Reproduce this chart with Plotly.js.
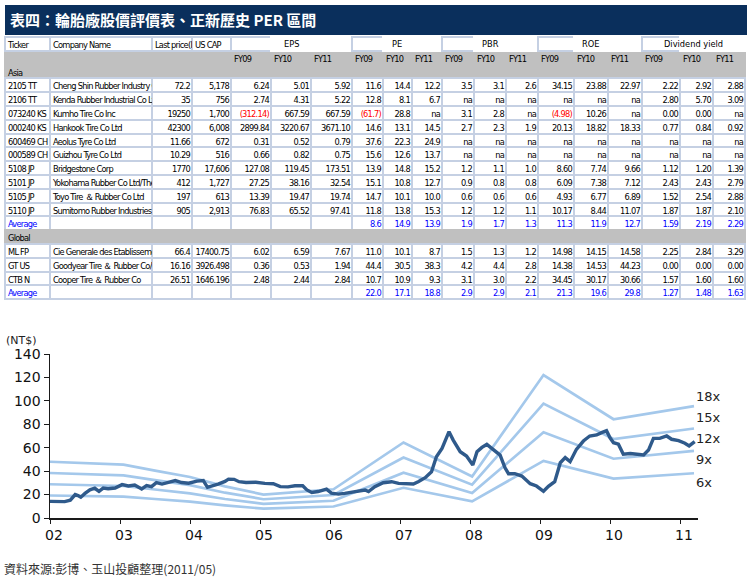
<!DOCTYPE html>
<html>
<head>
<meta charset="utf-8">
<script src="https://cdn.plot.ly/plotly-3.0.1.min.js"></script>
<style>
html,body{margin:0;padding:0;background:#fff;}
#chart{width:753px;height:578px;}
#chart .table text, #chart text.cell-text{letter-spacing:-0.75px;}
</style>
</head>
<body>
<div id="chart"></div>
<script>
// ---------------- DATA ----------------
const tableTitle = '表四：輪胎廠股價評價表、正新歷史 PER 區間';
const headerLabels = ['Ticker', 'Company Name', 'Last price(lc', 'US CAP'];
const groupLabels = ['EPS', 'PE', 'PBR', 'ROE', 'Dividend yield'];
const fyLabels = ['FY09', 'FY10', 'FY11'];
const regionLabels = ['Asia', 'Global'];
const averageLabel = 'Average';
const asiaCount = 10;

const tickers = ['2105 TT', '2106 TT', '073240 KS', '000240 KS', '600469 CH', '000589 CH', '5108 JP', '5101 JP', '5105 JP', '5110 JP', 'ML FP', 'GT US', 'CTB N'];
const companies = ['Cheng Shin Rubber Industry C', 'Kenda Rubber Industrial Co Ltc', 'Kumho Tire Co Inc', 'Hankook Tire Co Ltd', 'Aeolus Tyre Co Ltd', 'Guizhou Tyre Co Ltd', 'Bridgestone Corp', 'Yokohama Rubber Co Ltd/The', 'Toyo Tire ＆ Rubber Co Ltd', 'Sumitomo Rubber Industries L', 'Cie Generale des Etablisseme', 'Goodyear Tire ＆ Rubber Co/Th', 'Cooper Tire ＆ Rubber Co'];
const lastPrice = ['72.2', '35', '19250', '42300', '11.66', '10.29', '1770', '412', '197', '905', '66.4', '16.16', '26.51'];
const usCap = ['5,178', '756', '1,700', '6,008', '672', '516', '17,606', '1,727', '613', '2,913', '17400.75', '3926.498', '1646.196'];
const epsFY09 = ['6.24', '2.74', '(312.14)', '2899.84', '0.31', '0.66', '127.08', '27.25', '13.39', '76.83', '6.02', '0.36', '2.48'];
const epsFY10 = ['5.01', '4.31', '667.59', '3220.67', '0.52', '0.82', '119.45', '38.16', '19.47', '65.52', '6.59', '0.53', '2.44'];
const epsFY11 = ['5.92', '5.22', '667.59', '3671.10', '0.79', '0.75', '173.51', '32.54', '19.74', '97.41', '7.67', '1.94', '2.84'];
const peFY09 = ['11.6', '12.8', '(61.7)', '14.6', '37.6', '15.6', '13.9', '15.1', '14.7', '11.8', '11.0', '44.4', '10.7'];
const peFY10 = ['14.4', '8.1', '28.8', '13.1', '22.3', '12.6', '14.8', '10.8', '10.1', '13.8', '10.1', '30.5', '10.9'];
const peFY11 = ['12.2', '6.7', 'na', '14.5', '24.9', '13.7', '15.2', '12.7', '10.0', '15.3', '8.7', '38.3', '9.3'];
const pbrFY09 = ['3.5', 'na', '3.1', '2.7', 'na', 'na', '1.2', '0.9', '0.6', '1.2', '1.5', '4.2', '3.1'];
const pbrFY10 = ['3.1', 'na', '2.8', '2.3', 'na', 'na', '1.1', '0.8', '0.6', '1.2', '1.3', '4.4', '3.0'];
const pbrFY11 = ['2.6', 'na', 'na', '1.9', 'na', 'na', '1.0', '0.8', '0.6', '1.1', '1.2', '2.8', '2.2'];
const roeFY09 = ['34.15', 'na', '(4.98)', '20.13', 'na', 'na', '8.60', '6.09', '4.93', '10.17', '14.98', '14.38', '34.45'];
const roeFY10 = ['23.88', 'na', '10.26', '18.82', 'na', 'na', '7.74', '7.38', '6.77', '8.44', '14.15', '14.53', '30.17'];
const roeFY11 = ['22.97', 'na', 'na', '18.33', 'na', 'na', '9.66', '7.12', '6.89', '11.07', '14.58', '44.23', '30.66'];
const dyFY09 = ['2.22', '2.80', '0.00', '0.77', 'na', 'na', '1.12', '2.43', '1.52', '1.87', '2.25', '0.00', '1.57'];
const dyFY10 = ['2.92', '5.70', '0.00', '0.84', 'na', 'na', '1.20', '2.43', '2.54', '1.87', '2.84', '0.00', '1.60'];
const dyFY11 = ['2.88', '3.09', 'na', '0.92', 'na', 'na', '1.39', '2.79', '2.88', '2.10', '3.29', '0.00', '1.60'];
// averages for PE, PBR, ROE, Dividend yield (FY09..FY11 each)
const asiaAverage = ['8.6', '14.9', '13.9', '1.9', '1.7', '1.3', '11.3', '11.9', '12.7', '1.59', '2.19', '2.29'];
const globalAverage = ['22.0', '17.1', '18.8', '2.9', '2.9', '2.1', '21.3', '19.6', '29.8', '1.27', '1.48', '1.63'];

// Chart: Cheng Shin share price (NT$) and PER band lines
const priceDates = [2002.00, 2002.07, 2002.14, 2002.21, 2002.29, 2002.36, 2002.40, 2002.44, 2002.50, 2002.57, 2002.64, 2002.70, 2002.76, 2002.83, 2002.93,
  2003.03, 2003.12, 2003.21, 2003.31, 2003.38, 2003.45, 2003.52, 2003.60, 2003.69, 2003.79, 2003.88, 2003.98,
  2004.10, 2004.19, 2004.25, 2004.32, 2004.40, 2004.50, 2004.55, 2004.63, 2004.70, 2004.80, 2004.94,
  2005.07, 2005.19, 2005.29, 2005.40, 2005.50, 2005.61, 2005.67, 2005.74, 2005.83, 2005.95,
  2006.02, 2006.12, 2006.21, 2006.36, 2006.50, 2006.55, 2006.64, 2006.76, 2006.88, 2006.98,
  2007.07, 2007.19, 2007.26, 2007.36, 2007.45, 2007.52, 2007.60, 2007.67, 2007.70, 2007.76, 2007.86, 2007.95,
  2008.04, 2008.10, 2008.17, 2008.24, 2008.35, 2008.43, 2008.50, 2008.55, 2008.64, 2008.74, 2008.86, 2008.95,
  2009.05, 2009.12, 2009.21, 2009.29, 2009.36, 2009.43, 2009.52, 2009.62, 2009.71, 2009.81, 2009.88, 2009.95,
  2010.00, 2010.05, 2010.12, 2010.19, 2010.29, 2010.38, 2010.48, 2010.55, 2010.62, 2010.71, 2010.81, 2010.88, 2010.98,
  2011.07, 2011.13, 2011.21];
const priceValues = [14.2, 13.9, 13.7, 14.0, 15.2, 20.0, 19.2, 17.8, 21.0, 24.0, 25.4, 22.8, 25.5, 25.0, 25.6,
  28.5, 27.4, 28.2, 24.8, 27.6, 26.8, 30.2, 29.0, 30.4, 32.0, 30.3, 29.7,
  31.5, 32.0, 26.2, 27.2, 29.0, 31.2, 33.2, 33.0, 31.0, 30.3, 30.5,
  29.6, 29.2, 26.8, 26.6, 27.5, 27.5, 24.0, 21.8, 22.6, 24.6,
  21.2, 20.4, 21.0, 22.5, 23.9, 22.6, 26.7, 30.1, 31.0, 29.6,
  29.5, 29.0, 31.0, 34.4, 39.5, 52.3, 59.4, 70.8, 73.7, 66.5, 56.6, 52.9,
  45.2, 56.6, 60.3, 62.8, 57.1, 53.7, 42.9, 37.8, 37.8, 35.8, 29.3, 27.3,
  22.8, 27.0, 31.0, 47.2, 51.5, 48.1, 58.6, 65.7, 70.0, 70.9, 72.9, 74.5,
  68.5, 64.3, 63.0, 54.5, 55.0, 54.6, 53.8, 58.0, 68.0, 68.0, 70.0, 67.2, 66.0,
  63.8, 61.5, 65.2];
const bandDates = [2002.00, 2003.05, 2003.50, 2004.00, 2004.50, 2005.05, 2006.05, 2007.05, 2008.03, 2009.05, 2010.05, 2011.20];
const bandTop = [48.0, 45.5, 40.5, 35.0, 27.0, 20.0, 24.5, 64.5, 35.5, 122.0, 84.3, 95.5];
const bandUpper = [38.4, 36.4, 32.4, 28.0, 21.6, 16.0, 19.6, 51.6, 28.4, 97.6, 67.4, 76.4];
const bandLower = [28.8, 27.3, 24.3, 21.0, 16.2, 12.0, 14.7, 38.7, 21.3, 73.2, 50.6, 57.3];
const bandBottom = [19.2, 18.2, 16.2, 14.0, 10.8, 8.0, 9.8, 25.8, 14.2, 48.8, 33.7, 38.2];
const bandLabels = ['18x', '15x', '12x', '9x', '6x'];
const yearTicks = [2002, 2003, 2004, 2005, 2006, 2007, 2008, 2009, 2010, 2011];
const yearTickText = ['02', '03', '04', '05', '06', '07', '08', '09', '10', '11'];
const unitLabel = '(NT$)';
const sourceText = '資料來源:彭博、玉山投顧整理(2011/05)';

// ---------------- TABLE BUILD ----------------
const W = 753, H = 578;
const px = x => x / W;
const py = y => 1 - y / H;
const NB = s => String(s).replace(/ /g, '\u00a0');

const colWidths = [45, 102, 40, 39, 40, 40, 41, 31, 29, 30, 32, 32, 32, 36, 34, 34, 38, 33, 32];
const metricCols = [epsFY09, epsFY10, epsFY11, peFY09, peFY10, peFY11, pbrFY09, pbrFY10, pbrFY11, roeFY09, roeFY10, roeFY11, dyFY09, dyFY10, dyFY11];
const asiaIdx = [...Array(asiaCount).keys()];
const globalIdx = [...Array(tickers.length - asiaCount).keys()].map(i => i + asiaCount);
// row layout: FY row, Asia, asia rows, Average, Global, global rows, Average
const nRows = 1 + 1 + asiaIdx.length + 1 + 1 + globalIdx.length + 1;
const asiaAvgRow = 2 + asiaIdx.length;
const globalRow = asiaAvgRow + 1;
const globalAvgRow = globalRow + 1 + globalIdx.length;
const grayRows = new Set([0, 1, globalRow]);
const avgRows = new Set([asiaAvgRow, globalAvgRow]);

function buildColumn(rowVal, fyVal, regionVal, avgVal) {
  const col = [fyVal, regionVal[0]];
  asiaIdx.forEach(i => col.push(rowVal(i)));
  col.push(avgVal(0));
  col.push(regionVal[1]);
  globalIdx.forEach(i => col.push(rowVal(i)));
  col.push(avgVal(1));
  return col;
}
const blank = () => '';
const leftCols = [];
leftCols.push(buildColumn(i => NB(tickers[i]), '', regionLabels, () => averageLabel));
leftCols.push(buildColumn(i => NB(companies[i]), '', ['', ''], blank));
leftCols.push(buildColumn(blank, '', ['', ''], blank));
leftCols.push(buildColumn(blank, '', ['', ''], blank));
for (let k = 0; k < 15; k++) leftCols.push(buildColumn(blank, fyLabels[k % 3], ['', ''], blank));
const rightCols = [];
rightCols.push(buildColumn(blank, '', ['', ''], blank));
rightCols.push(buildColumn(blank, '', ['', ''], blank));
rightCols.push(buildColumn(i => lastPrice[i], '', ['', ''], blank));
rightCols.push(buildColumn(i => usCap[i], '', ['', ''], blank));
metricCols.forEach((arr, k) => {
  rightCols.push(buildColumn(i => arr[i], '', ['', ''],
    r => (k < 3 ? '' : (r === 0 ? asiaAverage[k - 3] : globalAverage[k - 3]))));
});

const gridColor = '#c5d0e3';
const grayFill = '#c0c0c0';
const blueText = '#0000ff';
const redText = '#ff0000';
const rowIdx = [...Array(nRows).keys()];
const fill2D = colWidths.map(() => rowIdx.map(r => grayRows.has(r) ? grayFill : '#ffffff'));
const line2D = colWidths.map(() => rowIdx.map(r => grayRows.has(r) ? grayFill : gridColor));
const groupStart = new Set([0, 1, 2, 3, 4, 7, 10, 13, 16]);
const headerLine = colWidths.map((w, j) => groupStart.has(j) ? gridColor : '#ffffff');

const tableFont = 'DejaVu Sans Condensed, Liberation Sans Narrow, sans-serif';
const fontSize = 9.2;
const rowH = 13.8;
const tableTop = 37;
const textShift = 4;
const clear = 'rgba(0,0,0,0)';

const colorFor = (col) => col.map((v, r) => avgRows.has(r) ? blueText : (String(v).startsWith('(') ? redText : '#000000'));

const gridTable = {
  type: 'table',
  domain: {x: [px(5), px(745)], y: [py(430), py(tableTop)]},
  columnwidth: colWidths,
  header: {values: colWidths.map(() => ''), height: rowH, fill: {color: '#ffffff'}, line: {color: headerLine, width: 2}},
  cells: {values: colWidths.map(() => rowIdx.map(() => '')), height: rowH, fill: {color: fill2D}, line: {color: line2D, width: 2}},
  hoverinfo: 'skip'
};
// text layer, left aligned (shifted left so the fixed cell padding lands ~3px inside the cell)
const leftTable = {
  type: 'table',
  domain: {x: [px(0), px(740)], y: [py(430), py(tableTop - textShift)]},
  columnwidth: colWidths,
  header: {values: colWidths.map((w, j) => j < 4 ? NB(headerLabels[j]) : ''), height: rowH, align: 'left',
    fill: {color: clear}, line: {color: clear, width: 10},
    font: {family: tableFont, size: fontSize, color: '#000'}},
  cells: {values: leftCols, height: rowH, align: 'left',
    fill: {color: clear}, line: {color: clear, width: 10},
    font: {family: tableFont, size: fontSize, color: leftCols.map(colorFor)}},
  hoverinfo: 'skip'
};
// text layer, right aligned numbers
const rightTable = {
  type: 'table',
  domain: {x: [px(11), px(751)], y: [py(430), py(tableTop - textShift)]},
  columnwidth: colWidths,
  header: {values: colWidths.map(() => ''), height: rowH,
    fill: {color: clear}, line: {color: clear, width: 14}},
  cells: {values: rightCols, height: rowH, align: 'right',
    fill: {color: clear}, line: {color: clear, width: 14},
    font: {family: tableFont, size: fontSize, color: rightCols.map(colorFor)}},
  hoverinfo: 'skip'
};

// ---------------- CHART ----------------
const bandColor = '#a4c8eb';
const chartTraces = [bandTop, bandUpper, bandLower, bandBottom].map(v => ({
  type: 'scatter', mode: 'lines', x: bandDates, y: v, line: {color: bandColor, width: 2.7}, hoverinfo: 'skip', cliponaxis: false
}));
chartTraces.push({type: 'scatter', mode: 'lines', x: priceDates, y: priceValues,
  line: {color: '#2f5a8b', width: 3.4}, hoverinfo: 'skip'});

const groupCenters = [291.5, 397, 490, 590, 693.5];
const annotations = [];
annotations.push({xref: 'paper', yref: 'paper', x: px(8), y: py(20), xanchor: 'left', yanchor: 'middle', showarrow: false,
  text: '<b>' + tableTitle + '</b>', font: {family: 'Noto Sans CJK TC', size: 15, color: '#ffffff'}});
groupLabels.forEach((g, i) => annotations.push({xref: 'paper', yref: 'paper', x: px(groupCenters[i]), y: py(43.5),
  xanchor: 'center', yanchor: 'middle', showarrow: false, text: g, font: {family: tableFont, size: fontSize, color: '#000'}}));
const bandLabelY = [103.6, 85.6, 68.0, 50.1, 30.1];
bandLabels.forEach((t, i) => annotations.push({xref: 'x', yref: 'y', x: 2011.2, y: bandLabelY[i], xanchor: 'left', yanchor: 'middle',
  showarrow: false, text: t, font: {family: 'DejaVu Sans', size: 13, color: '#222'}}));
annotations.push({xref: 'paper', yref: 'paper', x: px(4), y: py(340), xanchor: 'left', yanchor: 'middle', showarrow: false,
  text: unitLabel, font: {family: 'DejaVu Sans', size: 11, color: '#222'}});
annotations.push({xref: 'paper', yref: 'paper', x: px(2), y: py(568), xanchor: 'left', yanchor: 'middle', showarrow: false,
  text: sourceText, font: {family: 'Noto Sans CJK TC', size: 12, color: '#333'}});

const layout = {
  width: W, height: H,
  margin: {l: 0, r: 0, t: 0, b: 0},
  paper_bgcolor: '#ffffff', plot_bgcolor: '#ffffff',
  showlegend: false,
  font: {family: 'DejaVu Sans', color: '#111'},
  xaxis: {domain: [px(50), px(698)], range: [2002, 2011.257], tickvals: yearTicks, ticktext: yearTickText,
    showgrid: false, zeroline: false, showline: true, linecolor: '#1a1a1a', linewidth: 1.5,
    ticks: 'outside', ticklen: 4, tickcolor: '#1a1a1a', tickwidth: 1, ticklabelshift: 4,
    tickfont: {family: 'DejaVu Sans', size: 14, color: '#111'}, fixedrange: true},
  yaxis: {domain: [py(518), py(354)], range: [0, 140], dtick: 20, tick0: 0,
    showgrid: false, zeroline: false, showline: true, linecolor: '#1a1a1a', linewidth: 1.5,
    ticks: 'outside', ticklen: 5, tickcolor: '#1a1a1a', tickwidth: 1,
    tickfont: {family: 'DejaVu Sans', size: 14, color: '#111'}, fixedrange: true},
  shapes: [{type: 'rect', xref: 'paper', yref: 'paper', x0: px(5), x1: px(747), y0: py(35), y1: py(5),
    fillcolor: '#0a2f5c', line: {width: 0}, layer: 'below'}],
  annotations: annotations
};

Plotly.newPlot('chart', [gridTable, leftTable, rightTable, ...chartTraces], layout, {staticPlot: true, displayModeBar: false});
</script>
</body>
</html>
